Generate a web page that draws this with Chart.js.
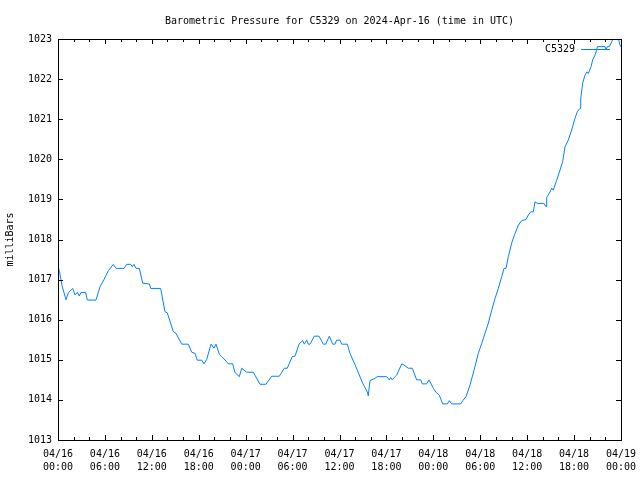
<!DOCTYPE html>
<html>
<head>
<meta charset="utf-8">
<script src="https://cdn.jsdelivr.net/npm/chart.js@4.4.1/dist/chart.umd.min.js"></script>
<style>
  html, body { margin: 0; padding: 0; background: #fff; }
  #wrap { width: 640px; height: 480px; }
</style>
</head>
<body>
<div id="wrap"><canvas id="pressureChart" width="640" height="480"></canvas></div>
<script>
// Horas desde 04/16 00:00 UTC e pressão lida (mbar)
const hours = [
  0.00, 0.19, 0.51, 1.02, 1.32, 1.88, 2.17, 2.47, 2.72, 2.94, 3.54, 3.75, 4.86, 5.37, 5.88,
  6.43, 7.07, 7.42, 8.44, 8.79, 9.30, 9.50, 9.72, 9.98, 10.40, 10.83, 11.68, 11.86, 13.13,
  13.68, 13.98, 14.75, 15.09, 15.82, 16.66, 17.10, 17.52, 17.81, 18.38, 18.67, 19.02, 19.57,
  19.95, 20.21, 20.63, 20.94, 21.58, 21.78, 22.34, 22.64, 23.19, 23.49, 24.13, 24.98, 25.83,
  26.60, 27.33, 28.30, 28.94, 29.32, 29.96, 30.31, 30.82, 31.29, 31.50, 31.81, 32.01, 32.23,
  32.78, 33.38, 33.93, 34.24, 34.70, 35.13, 35.42, 35.64, 36.06, 36.28, 37.00, 37.34, 37.98,
  38.53, 39.00, 39.56, 39.68, 39.90, 40.54, 40.83, 42.04, 42.37, 42.55, 42.75, 43.10, 43.32,
  43.96, 44.25, 44.80, 45.31, 45.87, 46.39, 46.59, 47.15, 47.45, 48.00, 48.34, 48.76, 49.20,
  49.79, 50.04, 50.35, 51.50, 51.76, 52.18, 52.69, 53.33, 53.75, 54.19, 54.61, 55.03, 55.47,
  55.89, 56.31, 56.74, 57.04, 57.29, 57.59, 58.02, 58.45, 58.87, 59.30, 59.85, 60.15, 60.45,
  60.79, 61.00, 61.30, 62.15, 62.41, 62.50, 62.83, 63.14, 63.34, 63.78, 64.20, 64.54, 64.84,
  65.26, 65.69, 66.12, 66.41, 66.76, 66.85, 67.10, 67.40, 67.62, 67.82, 68.17, 68.38, 68.68,
  68.90, 68.97, 69.96, 70.09, 70.25, 70.51, 70.81, 71.02, 71.66, 71.87, 72.00
];
const pressure = [
  1017.35, 1017.20, 1016.85, 1016.50, 1016.67, 1016.78, 1016.62, 1016.68, 1016.59, 1016.68, 1016.68, 1016.49, 1016.49, 1016.82, 1017.00,
  1017.22, 1017.38, 1017.28, 1017.28, 1017.38, 1017.38, 1017.32, 1017.38, 1017.28, 1017.28, 1016.91, 1016.89, 1016.78, 1016.78,
  1016.20, 1016.17, 1015.70, 1015.66, 1015.39, 1015.39, 1015.19, 1015.16, 1014.99, 1014.99, 1014.90, 1015.01, 1015.39,
  1015.29, 1015.39, 1015.14, 1015.08, 1014.95, 1014.90, 1014.90, 1014.68, 1014.58, 1014.79, 1014.69, 1014.69, 1014.39,
  1014.39, 1014.59, 1014.59, 1014.79, 1014.79, 1015.08, 1015.09, 1015.39, 1015.48, 1015.39, 1015.49, 1015.39, 1015.39,
  1015.59, 1015.59, 1015.39, 1015.39, 1015.59, 1015.39, 1015.39, 1015.49, 1015.49, 1015.39, 1015.39, 1015.16, 1014.88,
  1014.62, 1014.40, 1014.20, 1014.10, 1014.48, 1014.54, 1014.58, 1014.58, 1014.50, 1014.56, 1014.50, 1014.58, 1014.62,
  1014.90, 1014.87, 1014.79, 1014.79, 1014.50, 1014.50, 1014.40, 1014.40, 1014.50, 1014.29, 1014.19, 1014.12, 1013.90,
  1013.90, 1013.98, 1013.90, 1013.90, 1013.98, 1014.08, 1014.37, 1014.83, 1015.16, 1015.41, 1015.66, 1015.91, 1016.24,
  1016.53, 1016.78, 1017.07, 1017.28, 1017.28, 1017.57, 1017.91, 1018.15, 1018.36, 1018.47, 1018.50, 1018.61, 1018.69,
  1018.69, 1018.94, 1018.90, 1018.90, 1018.82, 1019.05, 1019.15, 1019.28, 1019.23, 1019.48, 1019.73, 1019.94, 1020.31,
  1020.48, 1020.73, 1021.02, 1021.19, 1021.27, 1021.52, 1021.90, 1022.10, 1022.18, 1022.14, 1022.31, 1022.48, 1022.60,
  1022.73, 1022.81, 1022.81, 1022.73, 1022.81, 1022.81, 1022.93, 1023.02, 1023.02, 1022.85, 1022.80
];
const startDay = 16;          // 04/16 00:00 UTC
const xMajorStep = 6;         // horas entre rótulos
const xMinorStep = 2;         // marcas menores
const yMin = 1013, yMax = 1023;

const monoFont = { family: "'DejaVu Sans Mono', 'Liberation Mono', monospace", size: 10 };

// Moldura estilo gnuplot com marcas para dentro nos quatro lados, mais a legenda
const gnuplotFrame = {
  id: 'gnuplotFrame',
  afterDatasetsDraw(chart) {
    const { ctx, chartArea: a, scales: { x, y } } = chart;
    ctx.save();
    ctx.strokeStyle = '#000';
    ctx.lineWidth = 1;
    ctx.beginPath();
    for (let h = x.min; h <= x.max; h += xMinorStep) {
      const px = Math.round(x.getPixelForValue(h)) + 0.5;
      const len = h % xMajorStep === 0 ? 5 : 3;
      ctx.moveTo(px, a.bottom); ctx.lineTo(px, a.bottom - len);
      ctx.moveTo(px, a.top); ctx.lineTo(px, a.top + len);
    }
    y.ticks.forEach(t => {
      const py = Math.round(y.getPixelForValue(t.value)) + 0.5;
      ctx.moveTo(a.left, py); ctx.lineTo(a.left + 5, py);
      ctx.moveTo(a.right, py); ctx.lineTo(a.right - 5, py);
    });
    ctx.stroke();
    ctx.strokeRect(a.left + 0.5, a.top + 0.5, a.right - a.left, a.bottom - a.top);

    // legenda: texto à direita alinhado, amostra de linha depois
    const ds = chart.data.datasets[0];
    const ly = a.top + 10.5;
    ctx.font = `${monoFont.size}px ${monoFont.family}`;
    ctx.fillStyle = '#000';
    ctx.textAlign = 'right';
    ctx.textBaseline = 'middle';
    ctx.fillText(ds.label, a.right - 46, ly);
    ctx.strokeStyle = ds.borderColor;
    ctx.beginPath();
    ctx.moveTo(a.right - 40, ly);
    ctx.lineTo(a.right - 11, ly);
    ctx.stroke();
    ctx.restore();
  }
};

const ctx = document.getElementById('pressureChart').getContext('2d');
new Chart(ctx, {
  type: 'line',
  data: {
    datasets: [{
      label: 'C5329',
      data: hours.map((h, i) => ({ x: h, y: pressure[i] })),
      borderColor: 'rgb(0,128,255)',
      backgroundColor: 'rgb(0,128,255)',
      borderWidth: 1,
      pointRadius: 0,
      tension: 0,
      fill: false
    }]
  },
  options: {
    responsive: false,
    animation: false,
    layout: { padding: { left: 0, right: 19, top: 0, bottom: 0 } },
    scales: {
      x: {
        type: 'linear',
        min: 0,
        max: 72,
        afterFit(scale) {
          scale.height = 40;
          scale.paddingLeft = 0;
          scale.paddingRight = 0;
        },
        grid: { display: false, drawTicks: false },
        border: { display: false },
        ticks: {
          stepSize: xMajorStep,
          autoSkip: false,
          maxRotation: 0,
          padding: 8,
          color: '#000',
          font: { ...monoFont, lineHeight: 1.3 },
          callback: v => {
            const day = startDay + Math.floor(v / 24);
            const hr = v % 24;
            return ['04/' + day, String(hr).padStart(2, '0') + ':00'];
          }
        }
      },
      y: {
        min: yMin,
        max: yMax,
        afterFit(scale) {
          scale.width = 58;
          scale.paddingTop = 0;
          scale.paddingBottom = 0;
        },
        grid: { display: false, drawTicks: false },
        border: { display: false },
        ticks: {
          stepSize: 1,
          padding: 6,
          color: '#000',
          font: monoFont,
          callback: v => String(v)
        },
        title: {
          display: true,
          text: 'milliBars',
          color: '#000',
          font: monoFont,
          padding: { top: 4, bottom: 0 }
        }
      }
    },
    plugins: {
      title: {
        display: true,
        fullSize: false,
        text: 'Barometric Pressure for C5329 on 2024-Apr-16 (time in UTC)',
        color: '#000',
        font: { ...monoFont, weight: 'normal', lineHeight: 1.2 },
        padding: { top: 15, bottom: 12 }
      },
      legend: { display: false },
      tooltip: { enabled: false }
    }
  },
  plugins: [gnuplotFrame]
});
</script>
</body>
</html>
